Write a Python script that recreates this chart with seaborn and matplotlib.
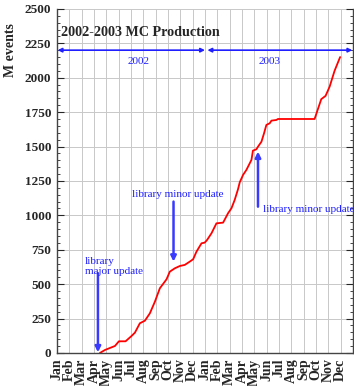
import numpy as np
import pandas as pd
import matplotlib
matplotlib.use("Agg")
import matplotlib.pyplot as plt
import matplotlib.transforms as mtransforms
import seaborn as sns
from matplotlib.ticker import MultipleLocator

# months counted from 1 Jan 2002
months = ["Jan", "Feb", "Mar", "Apr", "May", "Jun",
          "Jul", "Aug", "Sep", "Oct", "Nov", "Dec"]
month_labels = months + months

prod_time = [3.48, 3.89, 4.70, 5.02, 5.56, 6.05, 6.32, 6.72, 7.13, 7.53,
             7.94, 8.34, 8.88, 9.15, 9.55, 9.96, 10.36, 10.77, 11.04, 11.31,
             11.72, 11.98, 12.17, 12.53, 12.93, 13.47, 13.87, 14.15, 14.41, 14.68,
             14.82, 15.09, 15.36, 15.77, 15.89, 16.17, 16.30, 16.58, 16.79, 16.98,
             17.25, 17.39, 17.79, 17.92, 20.89, 21.43, 21.78, 22.11, 22.51, 22.78,
             22.96]
prod_events = [0, 22, 51, 85, 85, 124, 148, 216, 235, 288,
               373, 470, 535, 591, 615, 632, 640, 664, 681, 736,
               797, 802, 821, 870, 942, 947, 1015, 1052, 1112, 1190,
               1240, 1294, 1330, 1403, 1470, 1480, 1499, 1535, 1596, 1657,
               1669, 1688, 1693, 1700, 1700, 1844, 1868, 1935, 2050, 2110,
               2150]

df = pd.DataFrame({"month": prod_time, "events": prod_events})

sns.set_style("whitegrid")
plt.rcParams["font.family"] = ["Liberation Serif", "DejaVu Serif"]

fig, ax = plt.subplots(figsize=(3.54, 3.86), dpi=100)
fig.subplots_adjust(left=0.161, right=0.997, top=0.977, bottom=0.0855)

sns.lineplot(data=df, x="month", y="events", color="red", lw=1.3, ax=ax)

ax.set_xlim(0, 24)
ax.set_ylim(0, 2500)
ax.set_xticks(range(24))
ax.set_xticklabels(month_labels, rotation=90, fontweight="bold", fontsize=10)
shift = mtransforms.ScaledTranslation(3 / 100, 0, fig.dpi_scale_trans)
for lab in ax.get_xticklabels():
    lab.set_transform(lab.get_transform() + shift)
ax.yaxis.set_major_locator(MultipleLocator(250))
ax.yaxis.set_minor_locator(MultipleLocator(50))
for lab in ax.get_yticklabels():
    lab.set_fontweight("bold")
    lab.set_fontsize(9.5)
ax.tick_params(axis="y", which="both", direction="in", left=True, right=True, pad=4)
ax.tick_params(axis="y", which="major", length=5)
ax.tick_params(axis="y", which="minor", length=2.5)
ax.tick_params(axis="x", length=0, pad=4)
ax.grid(True, color="#c8c8c8", lw=0.7)
for s in ax.spines.values():
    s.set_color("#444444")
    s.set_linewidth(1)
ax.spines["top"].set_visible(False)

ax.set_xlabel("")
ax.set_ylabel("M events", fontweight="bold", fontsize=10)
ax.yaxis.set_label_coords(-0.135, 0.88)

ax.text(0.3, 2330, "2002-2003 MC Production", fontweight="bold", fontsize=10.2,
        va="center", ha="left")

blue = "#1f1fff"
arrow_blue = "#3a3aff"
# year span arrows
ax.annotate("", xy=(0.05, 2200), xytext=(12, 2200),
            arrowprops=dict(arrowstyle="<|-|>", color=blue, lw=1.2,
                            mutation_scale=6, shrinkA=0, shrinkB=0))
ax.annotate("", xy=(12.2, 2200), xytext=(23.95, 2200),
            arrowprops=dict(arrowstyle="<|-|>", color=blue, lw=1.2,
                            mutation_scale=6, shrinkA=0, shrinkB=0))
ax.text(6.6, 2115, "2002", color=blue, fontsize=8, ha="center", va="center")
ax.text(17.2, 2115, "2003", color=blue, fontsize=8, ha="center", va="center")

# library updates
ax.annotate("", xy=(3.32, 5), xytext=(3.32, 580),
            arrowprops=dict(arrowstyle="-|>", color=arrow_blue, lw=1.8,
                            mutation_scale=8, shrinkA=0, shrinkB=0))
ax.text(2.25, 560, "library\nmajor update", color=blue, fontsize=8,
        ha="left", va="bottom", linespacing=1.1)

ax.annotate("", xy=(9.45, 664), xytext=(9.45, 1100),
            arrowprops=dict(arrowstyle="-|>", color=arrow_blue, lw=1.8,
                            mutation_scale=8, shrinkA=0, shrinkB=0))
ax.text(6.05, 1150, "library minor update", color=blue, fontsize=8,
        ha="left", va="center")

ax.annotate("", xy=(16.3, 1463), xytext=(16.3, 1063),
            arrowprops=dict(arrowstyle="-|>", color=arrow_blue, lw=1.8,
                            mutation_scale=8, shrinkA=0, shrinkB=0))
ax.text(16.7, 1044, "library minor update", color=blue, fontsize=8,
        ha="left", va="center")

fig.savefig("out.png", dpi=100)
